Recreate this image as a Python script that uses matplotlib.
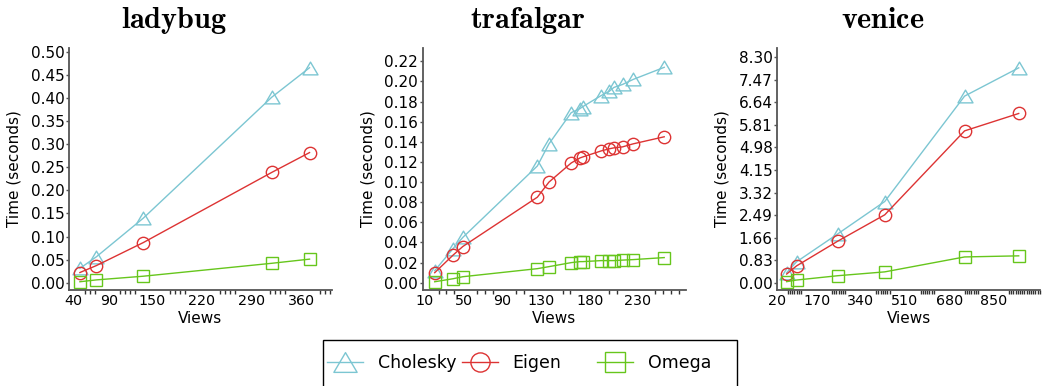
import numpy as np
import matplotlib
matplotlib.use('Agg')
import matplotlib.pyplot as plt
from matplotlib.ticker import FixedLocator, FixedFormatter, FormatStrFormatter
from matplotlib.path import Path
from matplotlib.patches import Rectangle

plt.rcParams['font.family'] = ['DejaVu Sans']
plt.rcParams['mathtext.fontset'] = 'cm'

# ---------------------------------------------------------------- data
names = ['ladybug', 'trafalgar', 'venice']

ladybug_views = [49, 72, 138, 318, 371]
ladybug_chol = [0.031, 0.056, 0.140, 0.402, 0.466]
ladybug_eigen = [0.022, 0.037, 0.087, 0.239, 0.282]
ladybug_omega = [0.002, 0.006, 0.014, 0.042, 0.051]

trafalgar_views = [20, 39, 49, 126, 138, 161, 170, 173, 192, 200, 205, 214, 225, 257]
trafalgar_chol = [0.012, 0.034, 0.045, 0.116, 0.138, 0.169, 0.173, 0.175,
                  0.186, 0.190, 0.194, 0.197, 0.202, 0.214]
trafalgar_eigen = [0.010, 0.0275, 0.036, 0.085, 0.100, 0.119, 0.124, 0.125,
                   0.131, 0.133, 0.134, 0.135, 0.138, 0.145]
trafalgar_omega = [0.001, 0.004, 0.006, 0.014, 0.016, 0.020, 0.021, 0.021,
                   0.022, 0.022, 0.022, 0.0225, 0.023, 0.025]

venice_views = [55, 93, 253, 432, 739, 947]
venice_chol = [0.37, 0.77, 1.81, 2.99, 6.87, 7.91]
venice_eigen = [0.32, 0.62, 1.54, 2.50, 5.59, 6.23]
venice_omega = [0.04, 0.10, 0.26, 0.40, 0.95, 0.99]

ladybug_xticks = [40, 90, 150, 220, 290, 360]
trafalgar_xticks = [10, 50, 90, 130, 180, 230]
venice_xticks = [20, 170, 340, 510, 680, 850]

ladybug_yticks = [0.05 * i for i in range(11)]
trafalgar_yticks = [0.02 * i for i in range(12)]
venice_yticks = [0.83 * i for i in range(11)]

series = ['Cholesky', 'Eigen', 'Omega']

# ---------------------------------------------------------------- style
W, H = 1043, 386
gray = '#555555'
colors = {'Cholesky': '#7cc6d2', 'Eigen': '#dd3333', 'Omega': '#66c61c'}
tri = Path([(0, 0.85), (-1, -0.85), (1, -0.85), (0, 0.85)],
           [Path.MOVETO, Path.LINETO, Path.LINETO, Path.CLOSEPOLY])
markers = {'Cholesky': (tri, 10.8), 'Eigen': ('o', 8.9), 'Omega': ('s', 8.9)}
xtick_fs = 10.3
ytick_fs = 11

panels = [
    (ladybug_views, [ladybug_chol, ladybug_eigen, ladybug_omega],
     ladybug_xticks, ladybug_yticks, (33.7, 402.5), (-0.0159, 0.5087), 7),
    (trafalgar_views, [trafalgar_chol, trafalgar_eigen, trafalgar_omega],
     trafalgar_xticks, trafalgar_yticks, (7.6, 279.2), (-0.0072, 0.2332), 8),
    (venice_views, [venice_chol, venice_eigen, venice_omega],
     venice_xticks, venice_yticks, (19, 1030), (-0.267, 8.64), 8.5),
]
lefts = [69, 422.7, 777.3]
ax_w, ax_top, ax_bot = 263, 48, 290

fig = plt.figure(figsize=(W / 100, H / 100), dpi=100)

axes = []
for i, (views, vals, xt, yt, xl, yl, step) in enumerate(panels):
    ax = fig.add_axes([lefts[i] / W, 1 - ax_bot / H, ax_w / W, (ax_bot - ax_top) / H])
    axes.append(ax)
    for name, v in zip(series, vals):
        m, ms = markers[name]
        ax.plot(views, v, color=colors[name], marker=m, ms=ms, mfc='none',
                mew=1.0, lw=1.0, label=name)
    ax.set_xlim(*xl)
    ax.set_ylim(*yl)

    for s in ['top', 'right']:
        ax.spines[s].set_visible(False)
    for s in ['left', 'bottom']:
        ax.spines[s].set_color(gray)
        ax.spines[s].set_linewidth(1.3)

    ax.set_yticks(yt)
    ax.yaxis.set_major_formatter(FormatStrFormatter('%.2f'))
    ax.tick_params(axis='y', direction='out', length=2.5, width=1, color=gray,
                   pad=0.8, labelsize=ytick_fs)

    # labelled ticks have no mark; small marks fill the gaps between labels
    px_per_unit = ax_w / (xl[1] - xl[0])
    small = np.arange(np.ceil(xl[0] / step) * step, xl[1], step)
    keep = []
    for s in small:
        gap = min(abs(s - t) * px_per_unit - len(str(t)) * 0.636 * xtick_fs * 100 / 72 / 2
                  for t in xt)
        if gap > 0.5:
            keep.append(s)
    ax.xaxis.set_major_locator(FixedLocator(xt))
    ax.xaxis.set_major_formatter(FixedFormatter([str(v) for v in xt]))
    ax.xaxis.set_minor_locator(FixedLocator(keep))
    ax.tick_params(axis='x', which='major', length=0, pad=3.2, labelsize=xtick_fs)
    ax.tick_params(axis='x', which='minor', direction='out', length=3.2,
                   width=1, color='#333333')

    ax.set_xlabel('Views', fontsize=11)
    ax.xaxis.set_label_coords(0.5, -0.085)
    ax.set_ylabel('Time (seconds)', fontsize=11)
    ax.yaxis.set_label_coords(-0.18, 0.5)
    ax.set_title(r'$\mathbf{%s}$' % names[i], fontsize=21.7, x=0.4, pad=14.5)

# ---------------------------------------------------------------- legend
fig.add_artist(Rectangle((322.7 / W, -0.05), 414 / W, 0.05 + 1 - 340 / H,
                         transform=fig.transFigure, facecolor='white',
                         edgecolor='black', lw=1.0, zorder=1))
leg_x = [327, 461.7, 596.7]
for line, x in zip(axes[0].get_lines(), leg_x):
    fig.legend(handles=[line], labels=[line.get_label()], loc='center left',
               bbox_to_anchor=(x / W, 1 - 363 / H), frameon=False,
               fontsize=12.5, handlelength=2.07, handletextpad=0.86,
               borderpad=0, borderaxespad=0, markerscale=1.55)

fig.savefig('out.png', dpi=100)
